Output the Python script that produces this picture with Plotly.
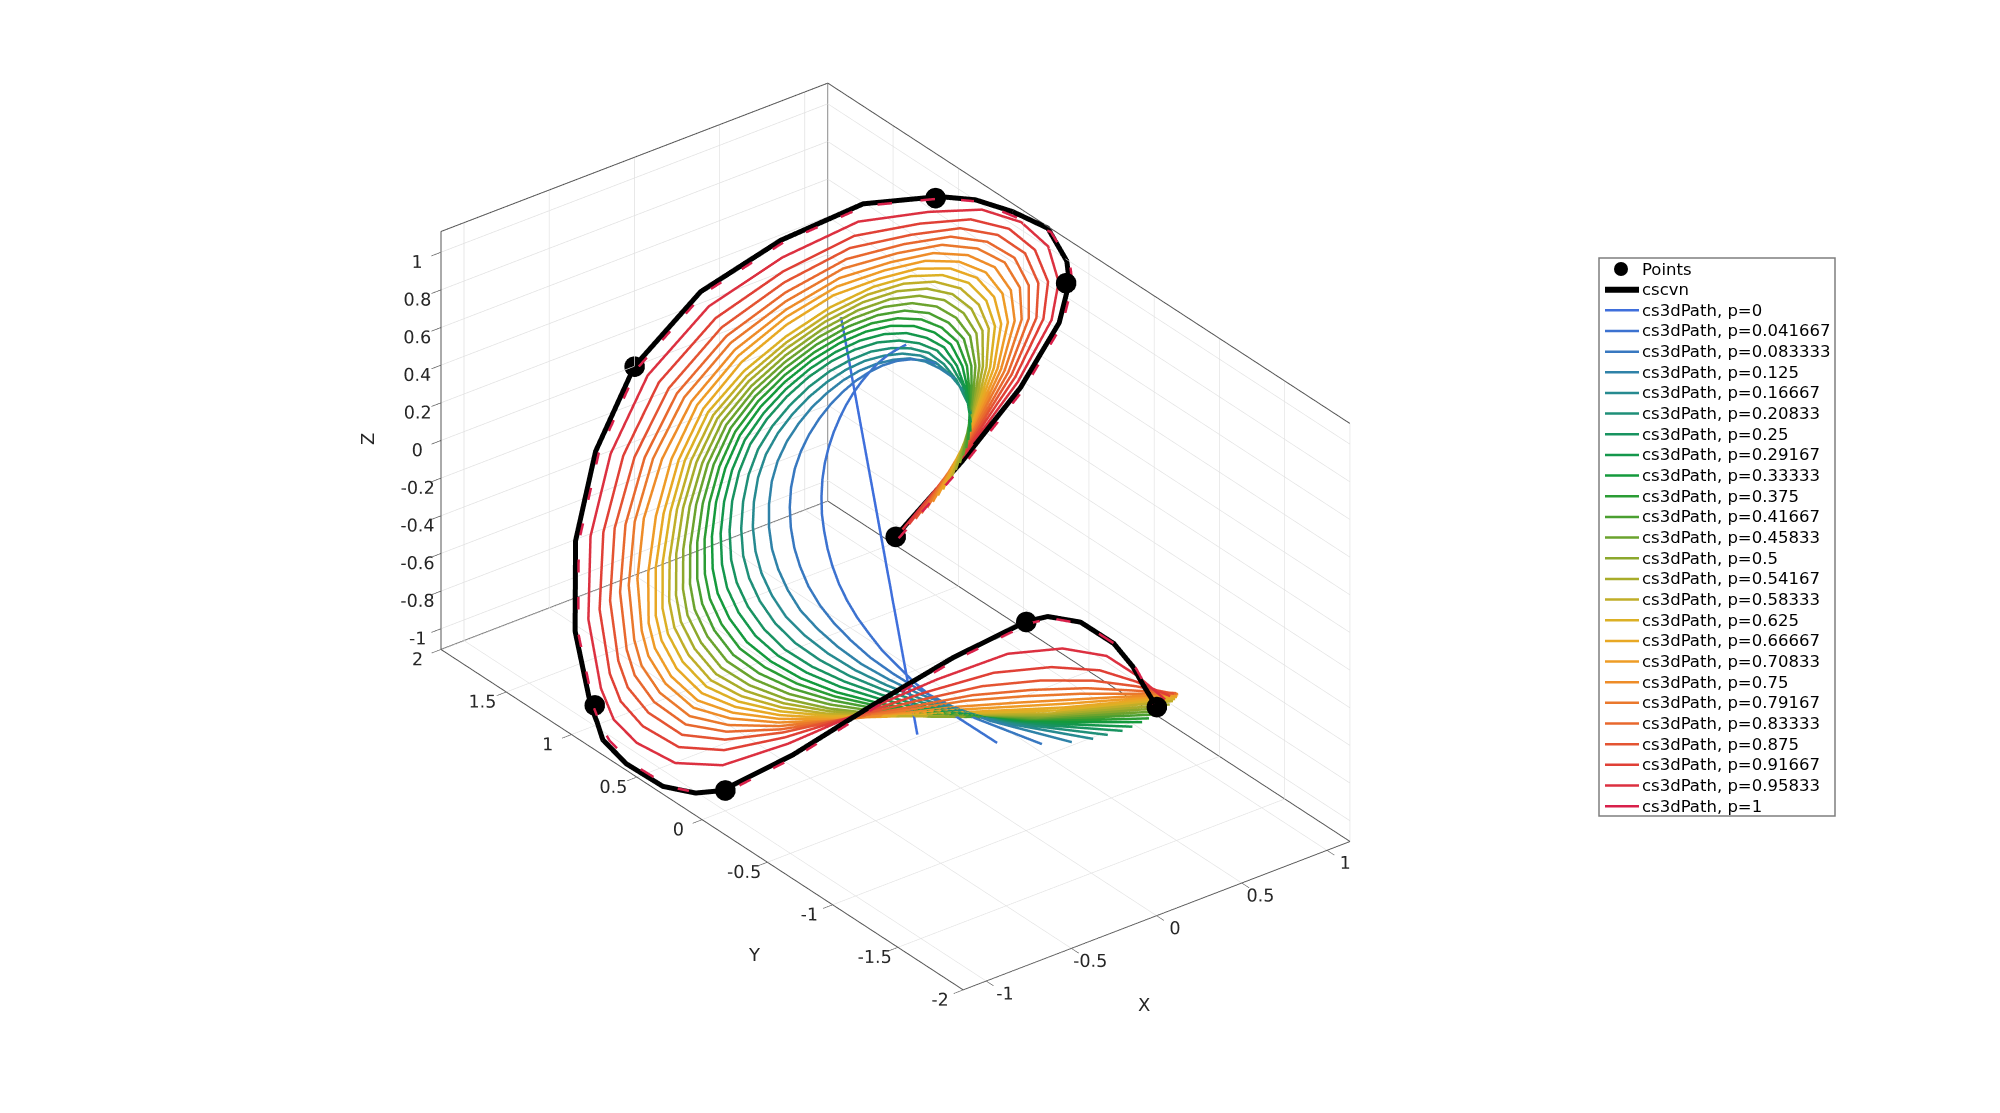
import plotly.graph_objects as go

P_LABELS = ["0","0.041667","0.083333","0.125","0.16667","0.20833","0.25","0.29167","0.33333","0.375","0.41667","0.45833","0.5","0.54167","0.58333","0.625","0.66667","0.70833","0.75","0.79167","0.83333","0.875","0.91667","0.95833","1"]
COLORS = ["#3f6fdc","#3c72d0","#3878c0","#2f82a8","#268a90","#1f8f78","#189360","#14974c","#149a3c","#2a9c34","#4a9f30","#6ba32e","#8ca82c","#a8ac2a","#c0ae28","#dcb024","#e8a824","#ee9c26","#ee8c28","#ea782c","#e8682e","#e45432","#e04036","#dc3040","#d8204a"]
PX = [0, 1, 1, 0, -1, -1, 0, 0]
PY = [0, 0, 1, 2, 1, 0, -1, -2]
PZ = [0, 1, 1, 0, -1, -1, 0, 0]
XLIM = 1.135
ZLIM = 1.11

# curve readings below: x and z as fractions of the half box, y in axis units
CX = [0,.33,.64,.88,1,1,1,.96,.93,.9,.721,.5,.256,0,-.256,-.5,-.721,-.9,-.97,-1,-1,-1,-1,-1,-.783,-.51,-.232,0,-.023,.012,.049,.047,.01,0]
CY = [0,-.02,-.01,.05,.15,.169,.315,.525,.766,1,1.316,1.62,1.872,2,1.918,1.71,1.386,1,.85,.76,.58,.3,.05,-.15,-.376,-.58,-.787,-1,-1.2,-1.4,-1.6,-1.75,-1.88,-2]
CZ = [0,.25,.49,.69,.8,.894,.992,1,.969,.9,.8,.58,.318,0,-.283,-.54,-.762,-.9,-.888,-.928,-.969,-.963,-.893,-.8,-.613,-.39,-.176,0,.114,.156,.122,.072,.054,0]

X00=[.483,.449,.414,.38,.345,.276,.207,.138,.069,0,-.069,-.104,-.138,-.173,-.207,-.276,-.345,-.414,-.483]
Y00=[1.133,1.061,.989,.917,.845,.701,.557,.413,.269,.125,-.019,-.091,-.163,-.235,-.307,-.451,-.595,-.739,-.883]
Z00=[.417,.387,.358,.328,.298,.239,.179,.119,.06,0,-.06,-.089,-.119,-.149,-.179,-.239,-.298,-.358,-.417]
X01=[.522,.494,.462,.427,.39,.348,.305,.26,.214,.167,.119,.072,.025,-.021,-.066,-.107,-.148,-.185,-.22,-.251,-.278,-.3,-.322,-.336,-.351,-.369,-.369]
Y01=[.691,.721,.745,.763,.772,.776,.774,.764,.746,.722,.689,.648,.597,.536,.466,.388,.301,.21,.108,-.001,-.119,-.244,-.377,-.518,-.666,-.982,-1.325]
Z01=[.451,.426,.4,.369,.337,.301,.264,.225,.185,.144,.102,.062,.021,-.019,-.058,-.094,-.129,-.16,-.191,-.217,-.241,-.261,-.279,-.292,-.303,-.319,-.317]
X02=[.525,.512,.49,.463,.427,.386,.339,.289,.235,.179,.121,.063,.006,-.05,-.104,-.155,-.202,-.242,-.279,-.309,-.332,-.349,-.36,-.364,-.362,-.341,-.296]
Y02=[.455,.537,.611,.675,.73,.775,.809,.833,.846,.849,.84,.817,.78,.726,.656,.572,.476,.372,.254,.123,-.02,-.175,-.341,-.519,-.707,-1.116,-1.56]
Z02=[.454,.442,.425,.401,.37,.333,.294,.25,.204,.155,.104,.054,.005,-.044,-.091,-.135,-.176,-.21,-.242,-.268,-.288,-.302,-.313,-.315,-.313,-.294,-.253]
X03=[.516,.517,.51,.492,.459,.419,.372,.319,.261,.197,.131,.064,-.003,-.068,-.13,-.19,-.243,-.286,-.324,-.356,-.375,-.388,-.392,-.386,-.372,-.323,-.24]
Y03=[.309,.423,.525,.618,.699,.77,.829,.875,.908,.929,.936,.926,.898,.847,.776,.688,.586,.475,.345,.2,.041,-.133,-.32,-.522,-.736,-1.2,-1.706]
Z03=[.446,.447,.442,.426,.398,.363,.323,.277,.226,.172,.113,.056,-.003,-.058,-.114,-.166,-.212,-.248,-.282,-.309,-.326,-.336,-.341,-.335,-.322,-.278,-.204]
X04=[.498,.518,.525,.517,.491,.454,.407,.352,.289,.219,.145,.07,-.006,-.08,-.151,-.218,-.277,-.325,-.365,-.397,-.414,-.422,-.419,-.406,-.383,-.309,-.195]
Y04=[.212,.345,.466,.575,.675,.763,.839,.901,.95,.985,1.004,1.005,.984,.934,.861,.77,.662,.545,.406,.251,.081,-.107,-.31,-.528,-.759,-1.259,-1.803]
Z04=[.43,.447,.455,.448,.426,.393,.354,.306,.251,.19,.125,.06,-.006,-.069,-.132,-.19,-.242,-.282,-.318,-.345,-.36,-.366,-.364,-.351,-.331,-.266,-.165]
X05=[.475,.515,.536,.54,.52,.488,.442,.385,.318,.243,.162,.078,-.006,-.088,-.167,-.241,-.307,-.358,-.4,-.432,-.449,-.453,-.444,-.423,-.391,-.297,-.16]
Y05=[.152,.293,.424,.545,.655,.755,.842,.916,.976,1.022,1.05,1.059,1.044,.995,.92,.825,.712,.591,.446,.283,.106,-.092,-.306,-.535,-.777,-1.3,-1.863]
Z05=[.41,.444,.462,.465,.449,.421,.385,.335,.28,.214,.142,.069,-.006,-.079,-.149,-.213,-.272,-.312,-.349,-.376,-.392,-.393,-.385,-.366,-.338,-.256,-.134]
X06=[.452,.512,.547,.562,.55,.522,.477,.417,.346,.265,.178,.087,-.006,-.096,-.183,-.264,-.336,-.391,-.435,-.467,-.483,-.483,-.468,-.44,-.399,-.285,-.124]
Y06=[.091,.241,.382,.514,.634,.745,.845,.93,1.001,1.058,1.097,1.114,1.104,1.056,.98,.88,.761,.637,.486,.314,.13,-.077,-.301,-.541,-.795,-1.34,-1.923]
Z06=[.39,.441,.469,.481,.471,.449,.415,.367,.309,.238,.159,.077,-.006,-.087,-.165,-.237,-.302,-.341,-.379,-.406,-.423,-.42,-.405,-.38,-.345,-.245,-.103]
X07=[.428,.506,.556,.583,.578,.554,.51,.449,.375,.289,.195,.097,-.004,-.102,-.197,-.285,-.362,-.421,-.467,-.5,-.512,-.509,-.489,-.454,-.405,-.275,-.096]
Y07=[.057,.21,.354,.491,.617,.736,.843,.936,1.015,1.081,1.129,1.153,1.148,1.1,1.021,.917,.793,.666,.51,.332,.142,-.072,-.302,-.549,-.81,-1.367,-1.957]
Z07=[.37,.435,.476,.498,.494,.477,.444,.397,.336,.261,.176,.087,-.004,-.093,-.179,-.259,-.327,-.368,-.406,-.433,-.446,-.441,-.423,-.392,-.35,-.236,-.079]
X08=[.403,.5,.565,.603,.606,.585,.542,.481,.404,.313,.212,.107,-.001,-.108,-.211,-.306,-.389,-.451,-.499,-.532,-.541,-.534,-.509,-.467,-.41,-.264,-.068]
Y08=[.023,.178,.325,.468,.6,.726,.841,.941,1.028,1.104,1.161,1.192,1.191,1.143,1.062,.953,.824,.694,.533,.35,.153,-.066,-.303,-.557,-.825,-1.394,-1.99]
Z08=[.349,.429,.483,.514,.517,.504,.473,.426,.363,.283,.192,.097,-.001,-.099,-.193,-.28,-.352,-.395,-.432,-.459,-.468,-.462,-.441,-.404,-.355,-.227,-.054]
X09=[.378,.492,.574,.622,.632,.615,.574,.512,.432,.336,.229,.117,.001,-.114,-.223,-.325,-.414,-.478,-.528,-.561,-.567,-.555,-.524,-.476,-.412,-.254,-.039]
Y09=[.002,.156,.303,.447,.583,.713,.834,.941,1.036,1.121,1.187,1.226,1.229,1.18,1.095,.981,.847,.714,.549,.361,.16,-.066,-.309,-.567,-.839,-1.415,-2]
Z09=[.327,.422,.489,.529,.538,.53,.501,.455,.39,.305,.208,.106,.001,-.105,-.205,-.299,-.376,-.419,-.457,-.484,-.49,-.48,-.453,-.411,-.357,-.218,-.042]
X10=[.353,.484,.582,.641,.657,.645,.606,.543,.46,.359,.246,.126,.003,-.119,-.235,-.344,-.438,-.504,-.556,-.589,-.593,-.576,-.539,-.484,-.414,-.243,-.002]
Y10=[-.019,.134,.281,.426,.565,.7,.827,.941,1.044,1.138,1.212,1.259,1.267,1.217,1.128,1.009,.87,.734,.565,.371,.166,-.065,-.314,-.577,-.853,-1.435,-2]
Z10=[.305,.414,.495,.544,.559,.555,.529,.483,.416,.327,.224,.115,.002,-.11,-.217,-.317,-.4,-.442,-.481,-.508,-.512,-.497,-.465,-.418,-.358,-.209,-.036]
X11=[.328,.477,.59,.66,.683,.676,.638,.574,.488,.382,.263,.135,.004,-.126,-.249,-.364,-.463,-.532,-.584,-.617,-.617,-.596,-.553,-.49,-.413,-.231,.024]
Y11=[-.032,.117,.262,.406,.547,.686,.818,.939,1.049,1.152,1.234,1.289,1.302,1.251,1.158,1.033,.888,.75,.576,.376,.168,-.069,-.322,-.589,-.868,-1.452,-2]
Z11=[.284,.407,.5,.559,.581,.581,.557,.512,.443,.35,.24,.124,.003,-.117,-.231,-.337,-.424,-.466,-.505,-.531,-.533,-.514,-.477,-.424,-.358,-.199,-.029]
X12=[.303,.469,.597,.679,.709,.706,.669,.605,.516,.405,.279,.144,.005,-.132,-.263,-.384,-.487,-.559,-.611,-.644,-.641,-.615,-.566,-.496,-.412,-.219,.05]
Y12=[-.044,.099,.242,.386,.528,.671,.809,.936,1.053,1.165,1.256,1.318,1.336,1.284,1.187,1.057,.906,.765,.586,.38,.169,-.072,-.329,-.6,-.882,-1.469,-2]
Z12=[.262,.399,.505,.574,.602,.607,.585,.54,.47,.372,.256,.132,.004,-.124,-.245,-.357,-.448,-.49,-.528,-.554,-.553,-.53,-.488,-.429,-.357,-.188,-.022]
X13=[.278,.461,.603,.697,.735,.736,.7,.636,.544,.428,.295,.152,.006,-.139,-.277,-.405,-.513,-.586,-.639,-.67,-.663,-.631,-.574,-.497,-.406,-.206,.068]
Y13=[-.05,.085,.224,.366,.508,.654,.797,.93,1.055,1.177,1.278,1.348,1.372,1.318,1.216,1.079,.921,.776,.593,.382,.167,-.079,-.339,-.613,-.898,-1.484,-2]
Z13=[.241,.391,.509,.588,.622,.632,.613,.569,.498,.395,.272,.141,.005,-.131,-.259,-.378,-.474,-.515,-.551,-.576,-.571,-.542,-.494,-.429,-.352,-.178,-.013]
X14=[.253,.453,.609,.715,.76,.766,.732,.666,.571,.45,.311,.161,.007,-.145,-.29,-.425,-.539,-.612,-.666,-.696,-.685,-.646,-.582,-.498,-.4,-.193,.085]
Y14=[-.057,.071,.205,.345,.488,.637,.785,.924,1.056,1.188,1.299,1.378,1.407,1.352,1.244,1.1,.935,.787,.6,.383,.164,-.085,-.349,-.626,-.913,-1.499,-2]
Z14=[.22,.383,.512,.601,.641,.656,.64,.597,.525,.417,.288,.149,.005,-.138,-.273,-.399,-.5,-.539,-.574,-.597,-.588,-.554,-.5,-.429,-.346,-.167,-.003]
X15=[.228,.444,.615,.733,.784,.795,.762,.696,.598,.473,.326,.169,.007,-.153,-.305,-.448,-.566,-.64,-.694,-.721,-.705,-.659,-.586,-.494,-.388,-.177,.096]
Y15=[-.06,.06,.186,.324,.465,.617,.77,.915,1.055,1.199,1.321,1.41,1.445,1.387,1.272,1.12,.946,.795,.602,.38,.158,-.095,-.362,-.642,-.929,-1.513,-2]
Z15=[.199,.374,.515,.614,.66,.68,.667,.626,.553,.441,.304,.158,.005,-.147,-.29,-.423,-.528,-.563,-.598,-.617,-.604,-.564,-.503,-.425,-.336,-.153,.003]
X16=[.204,.435,.622,.751,.809,.823,.793,.726,.626,.495,.342,.177,.007,-.161,-.321,-.47,-.594,-.667,-.723,-.747,-.725,-.671,-.591,-.489,-.377,-.161,.106]
Y16=[-.062,.05,.168,.303,.442,.596,.754,.906,1.055,1.209,1.343,1.442,1.483,1.422,1.301,1.14,.957,.804,.605,.377,.152,-.104,-.375,-.657,-.945,-1.527,-2]
Z16=[.178,.365,.518,.627,.678,.703,.694,.655,.581,.486,.344,.184,.005,-.155,-.306,-.446,-.556,-.588,-.622,-.638,-.62,-.574,-.506,-.421,-.326,-.139,.009]
X17=[.179,.427,.628,.769,.834,.853,.825,.758,.656,.519,.358,.185,.006,-.171,-.339,-.495,-.623,-.698,-.753,-.774,-.746,-.683,-.592,-.48,-.36,-.142,.109]
Y17=[-.06,.04,.149,.278,.416,.572,.735,.894,1.053,1.22,1.368,1.479,1.528,1.463,1.333,1.161,.968,.809,.604,.369,.142,-.118,-.392,-.674,-.962,-1.539,-2]
Z17=[.157,.357,.52,.639,.697,.728,.723,.686,.612,.514,.366,.196,.005,-.165,-.325,-.473,-.587,-.616,-.647,-.66,-.636,-.582,-.505,-.412,-.311,-.122,.016]
X18=[.154,.418,.633,.787,.859,.883,.857,.79,.685,.542,.374,.193,.006,-.18,-.357,-.519,-.652,-.729,-.783,-.801,-.766,-.694,-.593,-.47,-.342,-.231,-.122,-.01,.112]
Y18=[-.058,.029,.13,.253,.389,.547,.715,.881,1.05,1.231,1.392,1.516,1.572,1.521,1.399,1.208,.978,.813,.602,.361,.131,-.132,-.408,-.691,-.978,-1.272,-1.551,-1.775,-2]
Z18=[.135,.348,.522,.65,.715,.752,.751,.717,.642,.543,.386,.208,.004,-.184,-.357,-.51,-.618,-.644,-.671,-.682,-.652,-.59,-.504,-.402,-.295,-.195,-.105,-.04,.021]
X19=[.129,.407,.638,.805,.884,.914,.89,.824,.716,.567,.391,.201,.004,-.192,-.377,-.547,-.685,-.765,-.817,-.831,-.788,-.704,-.587,-.452,-.313,-.2,-.096,.005,.106]
Y19=[-.052,.02,.11,.226,.357,.517,.69,.865,1.045,1.242,1.42,1.56,1.625,1.572,1.439,1.233,.986,.812,.594,.345,.112,-.153,-.428,-.711,-.995,-1.285,-1.56,-1.783,-2]
Z19=[.114,.337,.522,.661,.732,.776,.781,.751,.676,.575,.408,.22,.002,-.198,-.381,-.542,-.654,-.677,-.7,-.705,-.668,-.595,-.496,-.385,-.27,-.17,-.083,-.028,.025]
X20=[.104,.396,.643,.823,.908,.944,.924,.858,.747,.592,.408,.209,.002,-.203,-.397,-.575,-.719,-.801,-.852,-.862,-.811,-.713,-.582,-.433,-.285,-.17,-.071,.02,.101]
Y20=[-.046,.01,.089,.198,.325,.487,.666,.848,1.039,1.253,1.449,1.604,1.678,1.621,1.48,1.258,.994,.811,.587,.33,.093,-.174,-.449,-.73,-1.012,-1.298,-1.568,-1.79,-2]
Z20=[.093,.325,.521,.672,.748,.8,.811,.785,.711,.607,.432,.232,0,-.211,-.405,-.575,-.691,-.71,-.728,-.728,-.684,-.599,-.489,-.367,-.246,-.145,-.062,-.015,.029]
X21=[.078,.384,.646,.84,.933,.975,.959,.893,.78,.619,.427,.218,.001,-.215,-.42,-.607,-.758,-.843,-.892,-.898,-.838,-.721,-.571,-.404,-.245,-.13,-.04,.035,.09]
Y21=[-.039,.002,.067,.165,.288,.452,.637,.828,1.032,1.266,1.483,1.656,1.74,1.68,1.529,1.287,1,.802,.571,.304,.065,-.202,-.474,-.75,-1.027,-1.306,-1.57,-1.79,-2]
Z21=[.073,.312,.519,.681,.764,.825,.843,.821,.747,.645,.461,.248,-.001,-.227,-.434,-.615,-.734,-.75,-.759,-.754,-.701,-.6,-.474,-.339,-.211,-.111,-.036,0,.03]
X22=[.052,.37,.648,.854,.957,1,.994,.931,.817,.649,.447,.228,0,-.228,-.444,-.641,-.8,-.89,-.939,-.939,-.871,-.733,-.558,-.366,-.19,-.076,0,.04,.07]
Y22=[-.027,-.006,.043,.132,.249,.413,.603,.803,1.022,1.279,1.521,1.716,1.813,1.747,1.58,1.317,1.003,.786,.545,.269,.022,-.24,-.504,-.769,-1.035,-1.306,-1.565,-1.785,-2]
Z22=[.051,.297,.515,.685,.778,.848,.874,.86,.791,.687,.491,.265,-.001,-.243,-.465,-.657,-.781,-.793,-.796,-.784,-.722,-.603,-.457,-.303,-.163,-.066,-.003,.018,.026]
X23=[.026,.351,.645,.87,.98,1,1,.971,.856,.683,.472,.241,0,-.241,-.47,-.678,-.846,-.947,-.996,-.991,-.92,-.751,-.539,-.315,-.117,-.007,.05,.055,.044]
Y23=[-.015,-.013,.018,.093,.202,.312,.519,.777,1.013,1.297,1.566,1.787,1.898,1.825,1.64,1.348,1.003,.755,.506,.218,-.039,-.291,-.537,-.784,-1.033,-1.29,-1.543,-1.77,-2]
Z23=[.03,.276,.504,.69,.788,.906,.938,.903,.837,.736,.53,.288,-.002,-.262,-.5,-.705,-.835,-.848,-.84,-.821,-.752,-.606,-.43,-.253,-.099,-.008,.039,.035,.019]

CURVE_X=[X00,X01,X02,X03,X04,X05,X06,X07,X08,X09,X10,X11,X12,X13,X14,X15,X16,X17,X18,X19,X20,X21,X22,X23,CX]
CURVE_Y=[Y00,Y01,Y02,Y03,Y04,Y05,Y06,Y07,Y08,Y09,Y10,Y11,Y12,Y13,Y14,Y15,Y16,Y17,Y18,Y19,Y20,Y21,Y22,Y23,CY]
CURVE_Z=[Z00,Z01,Z02,Z03,Z04,Z05,Z06,Z07,Z08,Z09,Z10,Z11,Z12,Z13,Z14,Z15,Z16,Z17,Z18,Z19,Z20,Z21,Z22,Z23,CZ]

X_TICKS=[-1,-0.5,0,0.5,1]; Y_TICKS=[-2,-1.5,-1,-0.5,0,0.5,1,1.5,2]; Z_TICKS=[-1,-0.8,-0.6,-0.4,-0.2,0,0.2,0.4,0.6,0.8,1]

sx=lambda L:[v*XLIM for v in L]
sz=lambda L:[v*ZLIM for v in L]
fig = go.Figure()
a,b=-XLIM,XLIM; c,e=-ZLIM,ZLIM
fig.add_trace(go.Scatter3d(x=[a,a,b,b,None,b,b,None,a,a,b,b],y=[-2,2,2,-2,None,2,2,None,2,2,2,-2],z=[c,c,c,c,None,c,e,None,c,e,e,e],mode="lines",line=dict(color="#555555",width=2),showlegend=False,hoverinfo="skip"))
fig.add_trace(go.Scatter3d(x=sx(CX),y=CY,z=sz(CZ),mode="lines",line=dict(color="black",width=10),name="cscvn"))
for i,s in enumerate(P_LABELS[:-1]):
    fig.add_trace(go.Scatter3d(x=sx(CURVE_X[i]),y=CURVE_Y[i],z=sz(CURVE_Z[i]),mode="lines",line=dict(color=COLORS[i],width=5),name="cs3dPath, p="+s))
fig.add_trace(go.Scatter3d(x=[max(-XLIM,v*XLIM-.02) for v in CX],y=[max(-2,v-.05) for v in CY],z=[min(ZLIM,v*ZLIM+.02) for v in CZ],mode="lines",line=dict(color=COLORS[24],width=5,dash="dash"),name="cs3dPath, p=1"))
fig.add_trace(go.Scatter3d(x=PX,y=PY,z=PZ,mode="markers",marker=dict(color="black",size=12),name="Points"))
def ax(rng,ticks):
    return dict(title=dict(text=""),range=rng,tickmode="array",tickvals=ticks,ticktext=[str(t) for t in ticks],tickangle=0,
      tickfont=dict(size=14.5,color="#262626",family="DejaVu Sans"),showbackground=False,gridcolor="#e0e0e0",gridwidth=1.5,zeroline=False,showspikes=False,
      showline=True,linecolor="#555555",linewidth=2,ticks="outside",ticklen=12,tickcolor="#555555",tickwidth=1.5,autorange=False)
d=2.17
fig.update_layout(width=2000,height=1113,margin=dict(l=0,r=0,t=0,b=0),paper_bgcolor="white",showlegend=False,
 scene=dict(domain=dict(x=[0,0.8873],y=[0.087,0.963]),aspectmode="manual",aspectratio=dict(x=1,y=1.76,z=0.99),
  camera=dict(projection=dict(type="orthographic"),up=dict(x=0,y=0,z=1),center=dict(x=0,y=0,z=0),eye=dict(x=-0.527*d,y=-0.687*d,z=0.5*d)),
  xaxis=ax([-XLIM,XLIM],X_TICKS),yaxis=ax([-2,2],Y_TICKS),zaxis=ax([-ZLIM,ZLIM],Z_TICKS)))
ITEMS=["Points","cscvn"]+["cs3dPath, p="+s for s in P_LABELS]
W,H=2000,1113
anns=[];shapes=[dict(type="rect",xref="paper",yref="paper",x0=1591/W,x1=1827/W,y0=1-808/H,y1=1-250/H,line=dict(color="#7f7f7f",width=1.5))]
for i,t in enumerate(ITEMS):
    yy=261+i*20.66
    anns.append(dict(text=t,xref="paper",yref="paper",x=1632/W,y=1-yy/H,xanchor="left",yanchor="middle",showarrow=False,font=dict(size=16.5,family="DejaVu Sans",color="black")))
    if i==0:
        shapes.append(dict(type="circle",xref="paper",yref="paper",x0=1606/W,x1=1620/W,y0=1-(yy+7)/H,y1=1-(yy-7)/H,fillcolor="black",line=dict(color="black",width=0)))
    else:
        shapes.append(dict(type="line",xref="paper",yref="paper",x0=1597/W,x1=1631/W,y0=1-yy/H,y1=1-yy/H,line=dict(color="black" if i==1 else COLORS[i-2],width=6 if i==1 else 2.5)))
TITLES=[("X",1136,996,0),("Y",746,946,0),("Z",359,431,-90)]
for t,xx,yy,ang in TITLES:
    anns.append(dict(text=t,xref="paper",yref="paper",x=xx/W,y=1-yy/H,xanchor="center",yanchor="middle",showarrow=False,textangle=ang,font=dict(size=18,family="DejaVu Sans",color="#262626")))
fig.update_layout(annotations=anns,shapes=shapes)
fig.write_html("out.html")
